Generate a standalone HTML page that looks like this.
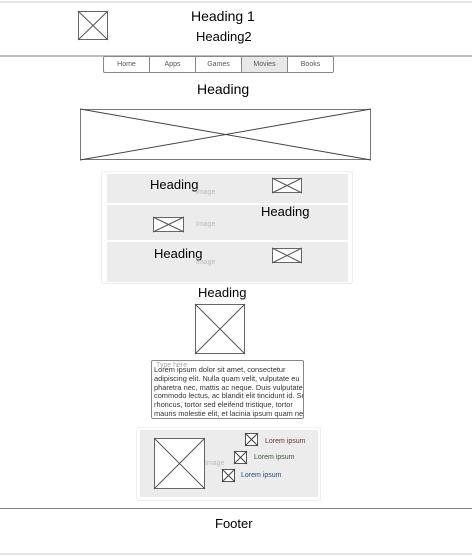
<!DOCTYPE html>
<html><head><style>
body{margin:0;width:472px;height:556px;position:relative;background:#fff;font-family:"Liberation Sans",Arial,sans-serif;overflow:hidden}
.a{position:absolute}
.t{position:absolute;white-space:nowrap;color:#000}
svg.x{position:absolute;overflow:visible}
.nav{position:absolute;top:56px;left:103px;height:16px;display:flex}
.nav div{width:45px;height:15px;border:1px solid #888;margin-left:-1px;font-size:7px;color:#555;text-align:center;line-height:15px;background:#fff}
.im{position:absolute;font-size:7px;color:#bbb}
</style></head><body>
<div class="a" style="left:0;top:1px;width:472px;height:2px;background:#e4e4e4"></div>
<svg class="x" style="left:78px;top:11px" width="30" height="29"><rect x="0.5" y="0.5" width="29" height="28" fill="#fff" stroke="#666"/><path d="M0 0L30 29M30 0L0 29" stroke="#555"/></svg>
<div class="t" style="left:191px;top:8px;font-size:14px">Heading 1</div>
<div class="t" style="left:196px;top:29px;font-size:13px">Heading2</div>
<div class="a" style="left:0;top:55px;width:472px;height:2px;background:#bbb"></div>
<div class="nav"><div style="margin-left:0;border-radius:2px 0 0 2px">Home</div><div>Apps</div><div>Games</div><div style="background:#e8e8e8">Movies</div><div style="border-radius:0 2px 2px 0">Books</div></div>
<div class="t" style="left:197px;top:81px;font-size:14px">Heading</div>
<svg class="x" style="left:80px;top:109px" width="291" height="51"><rect x="0.5" y="0.5" width="290" height="50" fill="#fff" stroke="#777"/><path d="M0 0L291 51M291 0L0 51" stroke="#444"/></svg>

<div class="a" style="left:101px;top:171px;width:250px;height:111px;border:1px solid #eee;border-radius:3px"></div>
<div class="a" style="left:107px;top:174px;width:241px;height:29px;background:#ececec"></div>
<div class="a" style="left:107px;top:205px;width:241px;height:35px;background:#ececec"></div>
<div class="a" style="left:107px;top:242px;width:241px;height:40px;background:#ececec"></div>
<div class="t" style="left:150px;top:177px;font-size:13px">Heading</div>
<div class="im" style="left:196px;top:189px">Image</div>
<svg class="x" style="left:272px;top:178px" width="30" height="15"><rect x="0.5" y="0.5" width="29" height="14" fill="#fff" stroke="#666"/><path d="M0 0L30 15M30 0L0 15" stroke="#555"/></svg>
<svg class="x" style="left:153px;top:217px" width="31" height="15"><rect x="0.5" y="0.5" width="30" height="14" fill="#fff" stroke="#666"/><path d="M0 0L31 15M31 0L0 15" stroke="#555"/></svg>
<div class="t" style="left:261px;top:204px;font-size:13px">Heading</div>
<div class="im" style="left:196px;top:221px">Image</div>
<div class="t" style="left:154px;top:246px;font-size:13px">Heading</div>
<div class="im" style="left:196px;top:259px">Image</div>
<svg class="x" style="left:272px;top:248px" width="30" height="15"><rect x="0.5" y="0.5" width="29" height="14" fill="#fff" stroke="#666"/><path d="M0 0L30 15M30 0L0 15" stroke="#555"/></svg>

<div class="t" style="left:198px;top:285px;font-size:13px">Heading</div>
<svg class="x" style="left:195px;top:304px" width="50" height="50"><rect x="0.5" y="0.5" width="49" height="49" fill="#fff" stroke="#666"/><path d="M0 0L50 50M50 0L0 50" stroke="#555"/></svg>

<div class="a" style="left:151px;top:360px;width:151px;height:57px;border:1px solid #888;border-radius:2px;overflow:hidden">
<div class="im" style="left:4px;top:1px;color:#aaa">Type here</div>
<div class="a" style="left:2px;top:5px;white-space:nowrap;font-size:7.4px;line-height:8.8px;color:#333">Lorem ipsum dolor sit amet, consectetur<br>adipiscing elit. Nulla quam velit, vulputate eu<br>pharetra nec, mattis ac neque. Duis vulputate<br>commodo lectus, ac blandit elit tincidunt id. Sed<br>rhoncus, tortor sed eleifend tristique, tortor<br>mauris molestie elit, et lacinia ipsum quam nec</div></div>

<div class="a" style="left:136px;top:427px;width:183px;height:72px;border:1px solid #eee;border-radius:3px"></div>
<div class="a" style="left:140px;top:430px;width:178px;height:67px;background:#ececec"></div>
<svg class="x" style="left:154px;top:438px" width="51" height="51"><rect x="0.5" y="0.5" width="50" height="50" fill="#fff" stroke="#666"/><path d="M0 0L51 51M51 0L0 51" stroke="#555"/></svg>
<div class="im" style="left:205px;top:460px">Image</div>
<svg class="x" style="left:245px;top:433px" width="13" height="13"><rect x="0.5" y="0.5" width="12" height="12" fill="#fff" stroke="#555"/><path d="M0 0L13 13M13 0L0 13" stroke="#444"/></svg>
<svg class="x" style="left:234px;top:451px" width="13" height="13"><rect x="0.5" y="0.5" width="12" height="12" fill="#fff" stroke="#555"/><path d="M0 0L13 13M13 0L0 13" stroke="#444"/></svg>
<svg class="x" style="left:222px;top:469px" width="13" height="13"><rect x="0.5" y="0.5" width="12" height="12" fill="#fff" stroke="#555"/><path d="M0 0L13 13M13 0L0 13" stroke="#444"/></svg>
<div class="t" style="left:265px;top:438px;font-size:7px;color:#6a3a2a">Lorem ipsum</div>
<div class="t" style="left:254px;top:454px;font-size:7px;color:#3a5a3a">Lorem ipsum</div>
<div class="t" style="left:241px;top:472px;font-size:7px;color:#2a4a7a">Lorem ipsum</div>

<div class="a" style="left:0;top:508px;width:472px;height:1px;background:#888"></div>
<div class="t" style="left:215px;top:516px;font-size:13px">Footer</div>
<div class="a" style="left:0;top:553px;width:472px;height:2px;background:#e4e4e4"></div>
</body></html>
